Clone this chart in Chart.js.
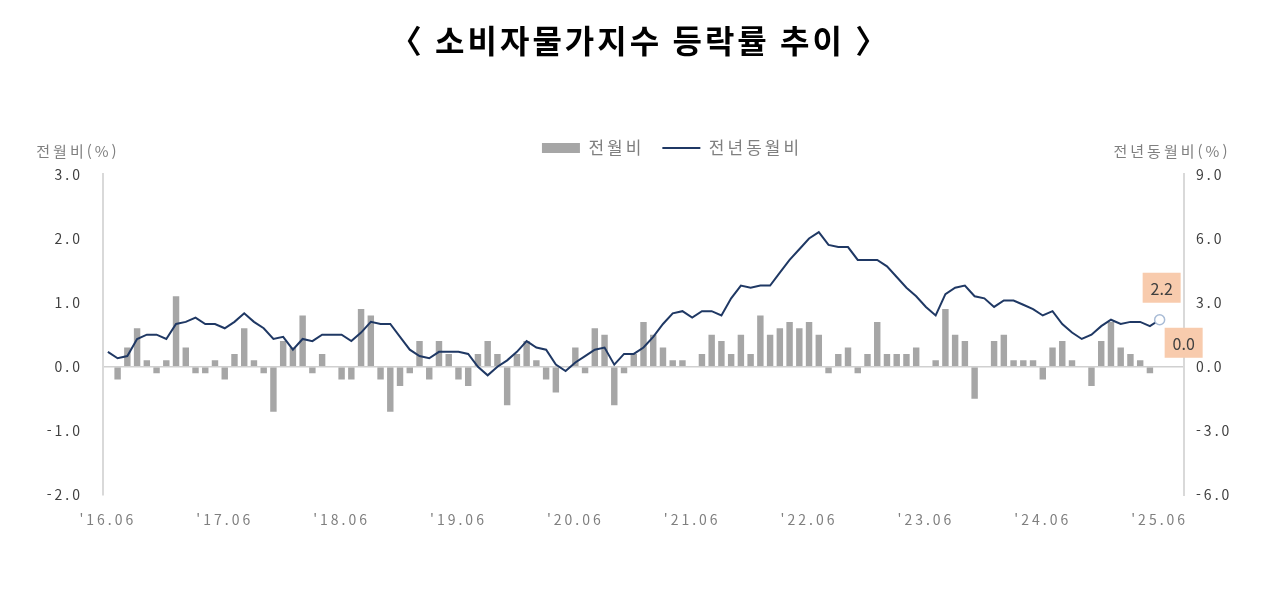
<!DOCTYPE html>
<html lang="ko">
<head>
<meta charset="utf-8">
<title>소비자물가지수 등락률 추이</title>
<script src="https://cdn.jsdelivr.net/npm/chart.js@4.4.1/dist/chart.umd.min.js"></script>
<style>
  html, body { margin: 0; padding: 0; background: #fff; }
  #wrap { width: 1280px; height: 607px; }
</style>
</head>
<body>
<div id="wrap"><canvas id="cpi" width="1280" height="607"></canvas></div>
<script>
const chartTitle = '〈 소비자물가지수 등락률 추이 〉';
const momName = '전월비';
const yoyName = '전년동월비';
const leftAxisTitle = '전월비(%)';
const rightAxisTitle = '전년동월비(%)';

const months = [
  "'16.06", "'16.07", "'16.08", "'16.09", "'16.10", "'16.11", "'16.12",
  "'17.01", "'17.02", "'17.03", "'17.04", "'17.05", "'17.06", "'17.07", "'17.08", "'17.09", "'17.10", "'17.11", "'17.12",
  "'18.01", "'18.02", "'18.03", "'18.04", "'18.05", "'18.06", "'18.07", "'18.08", "'18.09", "'18.10", "'18.11", "'18.12",
  "'19.01", "'19.02", "'19.03", "'19.04", "'19.05", "'19.06", "'19.07", "'19.08", "'19.09", "'19.10", "'19.11", "'19.12",
  "'20.01", "'20.02", "'20.03", "'20.04", "'20.05", "'20.06", "'20.07", "'20.08", "'20.09", "'20.10", "'20.11", "'20.12",
  "'21.01", "'21.02", "'21.03", "'21.04", "'21.05", "'21.06", "'21.07", "'21.08", "'21.09", "'21.10", "'21.11", "'21.12",
  "'22.01", "'22.02", "'22.03", "'22.04", "'22.05", "'22.06", "'22.07", "'22.08", "'22.09", "'22.10", "'22.11", "'22.12",
  "'23.01", "'23.02", "'23.03", "'23.04", "'23.05", "'23.06", "'23.07", "'23.08", "'23.09", "'23.10", "'23.11", "'23.12",
  "'24.01", "'24.02", "'24.03", "'24.04", "'24.05", "'24.06", "'24.07", "'24.08", "'24.09", "'24.10", "'24.11", "'24.12",
  "'25.01", "'25.02", "'25.03", "'25.04", "'25.05", "'25.06"
];
// empty slots after the last month (the original leaves room before the right axis)
const trailingSlots = ['', ''];

// 전월비 (%)
const momChange = [
  0.0, -0.2, 0.3, 0.6, 0.1, -0.1, 0.1,
  1.1, 0.3, -0.1, -0.1, 0.1, -0.2, 0.2, 0.6, 0.1, -0.1, -0.7, 0.4,
  0.3, 0.8, -0.1, 0.2, 0.0, -0.2, -0.2, 0.9, 0.8, -0.2, -0.7, -0.3,
  -0.1, 0.4, -0.2, 0.4, 0.2, -0.2, -0.3, 0.2, 0.4, 0.2, -0.6, 0.2,
  0.4, 0.1, -0.2, -0.4, 0.0, 0.3, -0.1, 0.6, 0.5, -0.6, -0.1, 0.2,
  0.7, 0.5, 0.3, 0.1, 0.1, 0.0, 0.2, 0.5, 0.4, 0.2, 0.5, 0.2,
  0.8, 0.5, 0.6, 0.7, 0.6, 0.7, 0.5, -0.1, 0.2, 0.3, -0.1, 0.2,
  0.7, 0.2, 0.2, 0.2, 0.3, 0.0, 0.1, 0.9, 0.5, 0.4, -0.5, 0.0,
  0.4, 0.5, 0.1, 0.1, 0.1, -0.2, 0.3, 0.4, 0.1, 0.0, -0.3, 0.4,
  0.7, 0.3, 0.2, 0.1, -0.1, 0.0
];

// 전년동월비 (%)
const yoyChange = [
  0.7, 0.4, 0.5, 1.3, 1.5, 1.5, 1.3,
  2.0, 2.1, 2.3, 2.0, 2.0, 1.8, 2.1, 2.5, 2.1, 1.8, 1.3, 1.4,
  0.8, 1.3, 1.2, 1.5, 1.5, 1.5, 1.2, 1.6, 2.1, 2.0, 2.0, 1.4,
  0.8, 0.5, 0.4, 0.7, 0.7, 0.7, 0.6, 0.0, -0.4, 0.0, 0.3, 0.7,
  1.2, 0.9, 0.8, 0.1, -0.2, 0.2, 0.5, 0.8, 0.9, 0.1, 0.6, 0.6,
  0.9, 1.4, 2.0, 2.5, 2.6, 2.3, 2.6, 2.6, 2.4, 3.2, 3.8, 3.7,
  3.8, 3.8, 4.4, 5.0, 5.5, 6.0, 6.3, 5.7, 5.6, 5.6, 5.0, 5.0,
  5.0, 4.7, 4.2, 3.7, 3.3, 2.8, 2.4, 3.4, 3.7, 3.8, 3.3, 3.2,
  2.8, 3.1, 3.1, 2.9, 2.7, 2.4, 2.6, 2.0, 1.6, 1.3, 1.5, 1.9,
  2.2, 2.0, 2.1, 2.1, 1.9, 2.2
];

const leftTicks = [-2, -1, 0, 1, 2, 3];
const rightTicks = [-6, -3, 0, 3, 6, 9];

const FONT = '"Noto Sans CJK KR", "Noto Sans", sans-serif';
const lastIdx = months.length - 1;

// the source chart uses widely spaced lettering everywhere
const wideLetters = {
  id: 'wideLetters',
  beforeLayout(chart) { chart.ctx.letterSpacing = '3px'; },
  beforeDraw(chart) { chart.ctx.letterSpacing = '3px'; },
  afterLayout(chart) {
    // legend sits a little right of centre and closer to the title in the original
    const lg = chart.legend;
    lg.left += 32;
    lg.right += 32;
    lg.top -= 8;
    lg.bottom -= 8;
  }
};

// axis titles above the axes and the highlighted latest values
const sideNotes = {
  id: 'sideNotes',
  afterDatasetsDraw(chart) {
    const {ctx, chartArea, scales} = chart;
    ctx.save();
    ctx.letterSpacing = '3px';
    ctx.font = '15px ' + FONT;
    ctx.fillStyle = '#7f7f7f';
    ctx.textAlign = 'center';
    ctx.textBaseline = 'middle';
    ctx.fillText(leftAxisTitle, chartArea.left - 25, chartArea.top - 23);
    ctx.fillText(rightAxisTitle, chartArea.right - 12, chartArea.top - 23);

    const x = scales.x.getPixelForValue(lastIdx);
    const yLine = scales.y1.getPixelForValue(yoyChange[lastIdx]);
    const yBar = scales.y.getPixelForValue(momChange[lastIdx]);
    const boxes = [
      {cx: x + 2, cy: yLine - 32, text: yoyChange[lastIdx].toFixed(1)},
      {cx: x + 24, cy: yBar - 24, text: momChange[lastIdx].toFixed(1)}
    ];
    ctx.letterSpacing = '0px';
    ctx.font = '16px ' + FONT;
    boxes.forEach(b => {
      ctx.fillStyle = '#f8cbad';
      ctx.fillRect(b.cx - 19, b.cy - 15, 38, 30);
      ctx.fillStyle = '#404040';
      ctx.fillText(b.text, b.cx, b.cy + 1);
    });
    ctx.restore();
  }
};

const ctx = document.getElementById('cpi').getContext('2d');
new Chart(ctx, {
  type: 'bar',
  data: {
    labels: months.concat(trailingSlots),
    datasets: [
      {
        label: momName,
        data: momChange,
        yAxisID: 'y',
        backgroundColor: '#a6a6a6',
        barPercentage: 0.66,
        categoryPercentage: 1,
        order: 1
      },
      {
        type: 'line',
        label: yoyName,
        data: yoyChange,
        yAxisID: 'y1',
        borderColor: '#1f3864',
        backgroundColor: '#1f3864',
        borderWidth: 2,
        tension: 0,
        pointRadius: yoyChange.map((v, i) => i === lastIdx ? 5 : 0),
        pointBackgroundColor: '#ffffff',
        pointBorderColor: '#a9bcd6',
        pointBorderWidth: 1.5,
        order: 0
      }
    ]
  },
  options: {
    responsive: false,
    animation: false,
    layout: {padding: {left: 0, right: 0, top: 0, bottom: 0}},
    plugins: {
      title: {
        display: true,
        text: chartTitle,
        color: '#000000',
        font: {family: FONT, size: 32, weight: 'bold'},
        padding: {top: 22, bottom: 69}
      },
      legend: {
        position: 'top',
        labels: {
          color: '#7f7f7f',
          font: {family: FONT, size: 17},
          usePointStyle: true,
          pointStyleWidth: 38,
          boxHeight: 10,
          padding: 18,
          sort: (a, b) => a.datasetIndex - b.datasetIndex,
          generateLabels(chart) {
            const items = Chart.defaults.plugins.legend.labels.generateLabels(chart);
            items.forEach(it => {
              if (it.datasetIndex === 0) {
                it.pointStyle = 'rect';
                it.lineWidth = 0;
              } else {
                it.pointStyle = 'line';
                it.lineWidth = 2;
                it.strokeStyle = '#1f3864';
              }
            });
            return items;
          }
        }
      },
      tooltip: {enabled: false}
    },
    scales: {
      x: {
        grid: {display: false},
        border: {display: false},
        ticks: {
          autoSkip: false,
          maxRotation: 0,
          color: '#7f7f7f',
          font: {family: FONT, size: 14},
          padding: 8,
          callback(value) {
            const lab = this.getLabelForValue(value);
            return lab.endsWith('.06') ? lab : '';
          }
        },
        afterFit(scale) { scale.height = 112; }
      },
      y: {
        position: 'left',
        min: leftTicks[0],
        max: leftTicks[leftTicks.length - 1],
        afterBuildTicks(scale) { scale.ticks = leftTicks.map(v => ({value: v})); },
        grid: {
          drawTicks: false,
          color: c => (c.tick && c.tick.value === 0) ? '#d0d0d0' : 'rgba(0,0,0,0)',
          lineWidth: 1.5
        },
        border: {display: true, color: '#d9d9d9', width: 2},
        ticks: {
          color: '#404040',
          font: {family: FONT, size: 14},
          padding: 20,
          callback: v => v.toFixed(1)
        },
        afterFit(scale) { scale.width = 103; }
      },
      y1: {
        position: 'right',
        min: rightTicks[0],
        max: rightTicks[rightTicks.length - 1],
        afterBuildTicks(scale) { scale.ticks = rightTicks.map(v => ({value: v})); },
        grid: {drawOnChartArea: false, drawTicks: false},
        border: {display: true, color: '#d9d9d9', width: 2},
        ticks: {
          color: '#404040',
          font: {family: FONT, size: 14},
          padding: 12,
          callback: v => v.toFixed(1)
        },
        afterFit(scale) { scale.width = 96; }
      }
    }
  },
  plugins: [wideLetters, sideNotes]
});
</script>
</body>
</html>
